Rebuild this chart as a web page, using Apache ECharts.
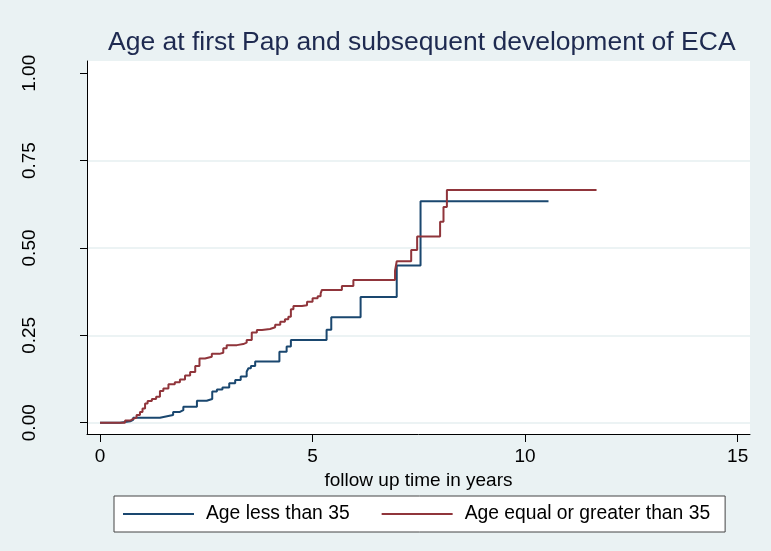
<!DOCTYPE html>
<html>
<head>
<meta charset="utf-8">
<script src="https://cdn.jsdelivr.net/npm/echarts@6/dist/echarts.min.js"></script>
<style>
html,body{margin:0;padding:0;background:#EAF2F3;}
#c{width:771px;height:551px;}
</style>
</head>
<body>
<div id="c"></div>
<script>
var titleText = 'Age at first Pap and subsequent development of ECA';
var xAxisTitle = 'follow up time in years';
var seriesNames = ['Age less than 35', 'Age equal or greater than 35'];
var xTicks = [0, 5, 10, 15];
var yTicks = [0, 0.25, 0.5, 0.75, 1];
var yGridTicks = [0, 0.25, 0.5, 0.75];

// Age less than 35: time (years) and cumulative failure after each step
var lessT = [0, 0.47, 0.71, 0.78, 1.41, 1.55, 1.72, 1.88, 1.96, 2.28, 2.51, 2.64, 2.75, 2.88, 3.04, 3.18, 3.31, 3.45, 3.49, 3.55, 3.65, 4.22, 4.39, 4.49, 5.33, 5.44, 6.13, 6.98, 7.54, 10.55];
var lessS = [0, 0.004, 0.008, 0.014, 0.018, 0.022, 0.031, 0.036, 0.046, 0.063, 0.068, 0.089, 0.095, 0.101, 0.113, 0.122, 0.132, 0.146, 0.156, 0.162, 0.175, 0.203, 0.218, 0.237, 0.266, 0.302, 0.360, 0.450, 0.634, 0.634];

// Age equal or greater than 35
var geT = [0, 0.59, 0.71, 0.78, 0.86, 0.94, 1.00, 1.06, 1.12, 1.22, 1.32, 1.41, 1.49, 1.61, 1.76, 1.88, 2.00, 2.12, 2.24, 2.34, 2.47, 2.63, 2.81, 2.90, 2.98, 3.22, 3.37, 3.45, 3.57, 3.69, 3.81, 4.00, 4.12, 4.24, 4.35, 4.43, 4.49, 4.55, 4.75, 4.87, 5.00, 5.12, 5.19, 5.22, 5.69, 5.96, 6.94, 6.98, 7.32, 7.46, 8.00, 8.08, 8.16, 11.68];
var geS = [0, 0.006, 0.011, 0.015, 0.022, 0.031, 0.041, 0.055, 0.062, 0.068, 0.074, 0.091, 0.098, 0.110, 0.116, 0.124, 0.135, 0.145, 0.162, 0.184, 0.189, 0.197, 0.200, 0.213, 0.222, 0.225, 0.229, 0.237, 0.258, 0.265, 0.268, 0.273, 0.280, 0.289, 0.296, 0.303, 0.325, 0.334, 0.336, 0.346, 0.356, 0.362, 0.370, 0.380, 0.391, 0.408, 0.435, 0.462, 0.494, 0.533, 0.575, 0.617, 0.666, 0.666];

function pairs(t, s) { return t.map(function (v, i) { return [v, s[i]]; }); }

var FONT = '"Liberation Sans", Arial, sans-serif';
var chart = echarts.init(document.getElementById('c'), null, {renderer: 'canvas'});
var Y_MIN = -0.0323, Y_MAX = 1.035, X_MIN = -0.306, X_MAX = 15.29;

chart.setOption({
  backgroundColor: '#EAF2F3',
  animation: false,
  textStyle: {fontFamily: FONT},
  title: {
    text: titleText,
    left: 108, top: 29, padding: 0,
    textStyle: {fontFamily: FONT, fontSize: 26.5, fontWeight: 'normal', color: '#1E2A50'}
  },
  grid: {
    left: 87, right: 21, top: 61, bottom: 117,
    show: true, backgroundColor: '#ffffff', borderWidth: 0
  },
  legend: {
    left: 114, top: 496,
    padding: [8, 15, 8, 9],
    backgroundColor: '#ffffff',
    borderColor: '#444444', borderWidth: 1,
    icon: 'rect',
    itemWidth: 71, itemHeight: 2, itemGap: 32,
    textStyle: {fontFamily: FONT, fontSize: 19.3, color: '#000', lineHeight: 20, padding: [0, 0, 0, 7]},
    data: seriesNames
  },
  xAxis: {
    type: 'value', min: X_MIN, max: X_MAX,
    name: xAxisTitle, nameLocation: 'middle', nameGap: 31,
    nameTextStyle: {fontFamily: FONT, fontSize: 19, color: '#000'},
    axisLine: {show: true, onZero: false, lineStyle: {color: '#000', width: 1}},
    axisTick: {show: true, length: 8, customValues: xTicks, lineStyle: {color: '#000'}},
    axisLabel: {customValues: xTicks, margin: 13, fontFamily: FONT, fontSize: 19, color: '#000'},
    splitLine: {show: false}
  },
  yAxis: [{
    type: 'value', min: Y_MIN, max: Y_MAX,
    axisLine: {show: true, onZero: false, lineStyle: {color: '#000', width: 1}},
    axisTick: {show: true, length: 7, customValues: yTicks, lineStyle: {color: '#000'}},
    axisLabel: {customValues: yTicks, rotate: 90, margin: 48, fontFamily: FONT, fontSize: 19, color: '#000',
      formatter: function (v) { return v.toFixed(2); }},
    splitLine: {show: false}
  }, {
    type: 'value', min: Y_MIN, max: Y_MAX, position: 'left',
    axisLine: {show: false}, axisLabel: {show: false},
    axisTick: {show: false, customValues: yGridTicks},
    splitLine: {show: true, lineStyle: {color: '#E6EFF1', width: 1.5}}
  }],
  series: [{
    name: seriesNames[0], type: 'line', step: 'end', symbol: 'none',
    yAxisIndex: 0, z: 3,
    lineStyle: {color: '#1A476F', width: 2},
    itemStyle: {color: '#1A476F'},
    data: pairs(lessT, lessS)
  }, {
    name: seriesNames[1], type: 'line', step: 'end', symbol: 'none',
    yAxisIndex: 0, z: 3,
    lineStyle: {color: '#90353B', width: 2},
    itemStyle: {color: '#90353B'},
    data: pairs(geT, geS)
  }]
});
</script>
</body>
</html>
